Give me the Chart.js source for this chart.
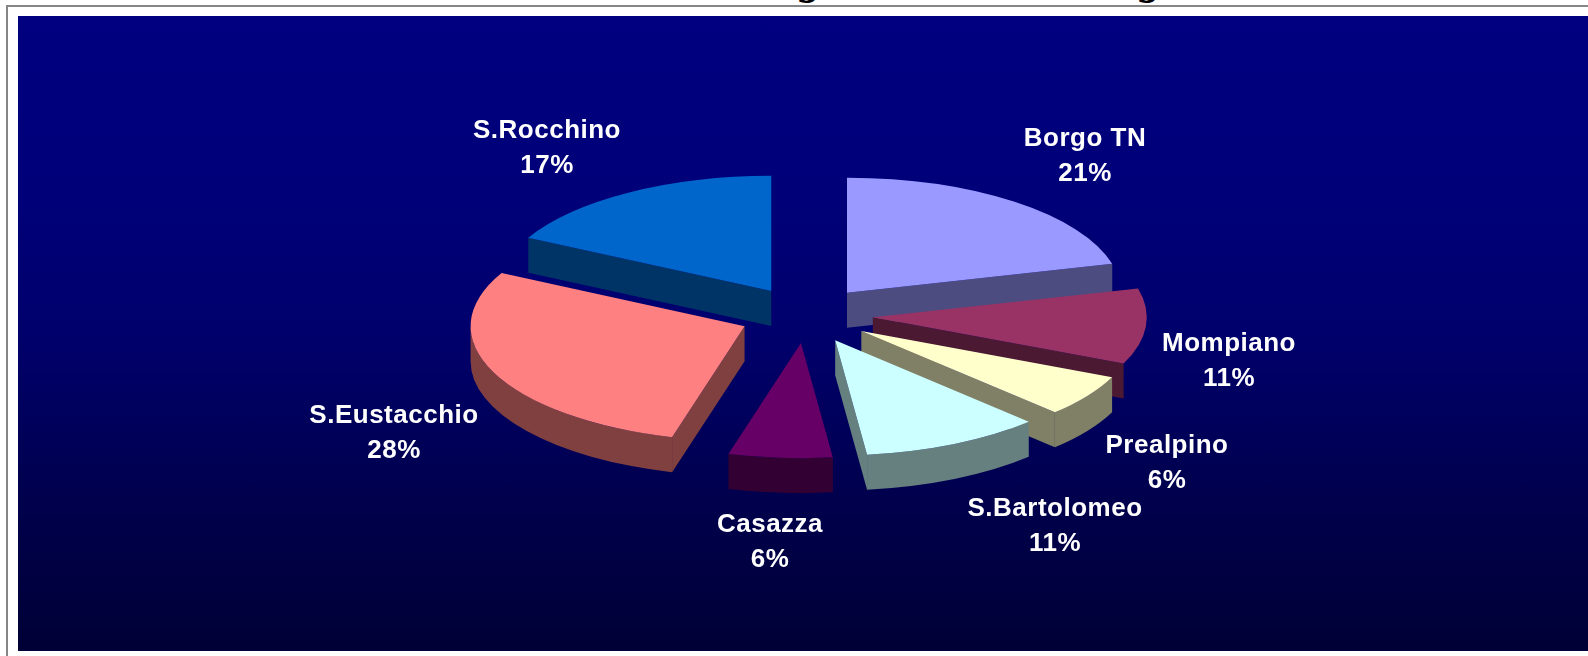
<!DOCTYPE html>
<html>
<head>
<meta charset="utf-8">
<script src="https://cdn.jsdelivr.net/npm/chart.js@4"></script>
<style>
  html, body { margin: 0; padding: 0; background: #fff; overflow: hidden; }
  #frameTop { position: absolute; left: 6px; top: 5px; right: 0; height: 2px; background: #868686; }
  #frameLeft { position: absolute; left: 6px; top: 5px; bottom: 0; width: 2px; background: #868686; }
  #wrap { position: absolute; left: 18px; top: 16px; width: 1570px; height: 635px;
          background: linear-gradient(#000080, #000078 30%, #00006c 50%, #00004e 75%, #000036); }
  #cutTitle { position: absolute; left: 0; top: 0; }
  #cutTitle text { font: italic bold 44px "Liberation Serif"; fill: #000; }
</style>
</head>
<body>
<svg id="cutTitle" width="1588" height="5"><text x="800" y="-6">g</text><text x="1140" y="-6">g</text></svg>
<div id="frameTop"></div>
<div id="frameLeft"></div>
<div id="wrap"><canvas id="myChart" width="1570" height="635"></canvas></div>
<script>
const zones = ['Borgo TN', 'Mompiano', 'Prealpino', 'S.Bartolomeo', 'Casazza', 'S.Eustacchio', 'S.Rocchino'];
const shares = [20.9, 10.6, 5.9, 10.6, 6.1, 28.3, 17.3];
const topColors = ['#9999FF', '#993366', '#FFFFCC', '#CCFFFF', '#660066', '#FF8080', '#0066CC'];
const sideColors = ['#4C4C80', '#4C1933', '#808066', '#668080', '#330033', '#804040', '#003366'];

// look of the fake 3D pie
const tilt = 0.42, depth = 35, explode = 67;
// label centres on the canvas (name line)
const labelAt = [[1067, 123], [1211, 328], [1149, 430], [1037, 493], [752, 509], [376, 400], [529, 115]];

function ellipsePoint(cx, cy, r, a) {
  return [cx + Math.cos(a) * r, cy + Math.sin(a) * r * tilt];
}

const fakePie3d = {
  id: 'fakePie3d',
  beforeDatasetsDraw(chart) {
    const ctx = chart.ctx;
    const arcs = chart.getDatasetMeta(0).data.map((arc, i) => ({arc, i}));
    arcs.sort((a, b) => Math.sin((a.arc.startAngle + a.arc.endAngle) / 2) - Math.sin((b.arc.startAngle + b.arc.endAngle) / 2));

    arcs.forEach(({arc, i}) => {
      const a0 = arc.startAngle, a1 = arc.endAngle, r = arc.outerRadius;
      const mid = (a0 + a1) / 2;
      const cx = arc.x + Math.cos(mid) * explode;
      const cy = arc.y + Math.sin(mid) * explode * tilt;
      ctx.save();
      ctx.fillStyle = sideColors[i];

      // flat cut faces, only the ones turned to the viewer
      [[a0, Math.cos(a0) < 0], [a1, Math.cos(a1) > 0]].forEach(([a, visible]) => {
        if (!visible) return;
        const p = ellipsePoint(cx, cy, r, a);
        ctx.beginPath();
        ctx.moveTo(cx, cy);
        ctx.lineTo(p[0], p[1]);
        ctx.lineTo(p[0], p[1] + depth);
        ctx.lineTo(cx, cy + depth);
        ctx.closePath();
        ctx.fill();
      });

      // rim, front half only
      const zero = Math.floor(a0 / (2 * Math.PI)) * 2 * Math.PI;
      const from = Math.max(a0, zero);
      const to = Math.min(a1, zero + Math.PI);
      if (to > from) {
        ctx.beginPath();
        ctx.ellipse(cx, cy, r, r * tilt, 0, from, to);
        ctx.ellipse(cx, cy + depth, r, r * tilt, 0, to, from, true);
        ctx.closePath();
        ctx.fill();
      }
      // top of the slice is the chart's own arc, squashed
      ctx.translate(cx, cy);
      ctx.scale(1, tilt);
      ctx.translate(-arc.x, -arc.y);
      arc.draw(ctx);
      ctx.restore();
    });
    return false;
  },
  afterDraw(chart) {
    const ctx = chart.ctx;
    const total = shares.reduce((s, v) => s + v, 0);
    ctx.save();
    ctx.fillStyle = '#fff';
    ctx.font = 'bold 26px "Liberation Sans"';
    ctx.letterSpacing = '0.5px';
    ctx.textAlign = 'center';
    ctx.textBaseline = 'middle';
    zones.forEach((name, i) => {
      const [x, y] = labelAt[i];
      ctx.fillText(name, x, y);
      ctx.fillText(Math.round(shares[i] / total * 100) + '%', x, y + 35);
    });
    ctx.restore();
  }
};

new Chart(document.getElementById('myChart'), {
  type: 'pie',
  data: {
    labels: zones,
    datasets: [{
      data: shares,
      backgroundColor: topColors,
      borderWidth: 0,
      radius: 274
    }]
  },
  options: {
    responsive: false,
    animation: false,
    layout: { padding: { left: 6, bottom: 37 } },
    plugins: { legend: { display: false }, tooltip: { enabled: false } }
  },
  plugins: [fakePie3d]
});
</script>
</body>
</html>
